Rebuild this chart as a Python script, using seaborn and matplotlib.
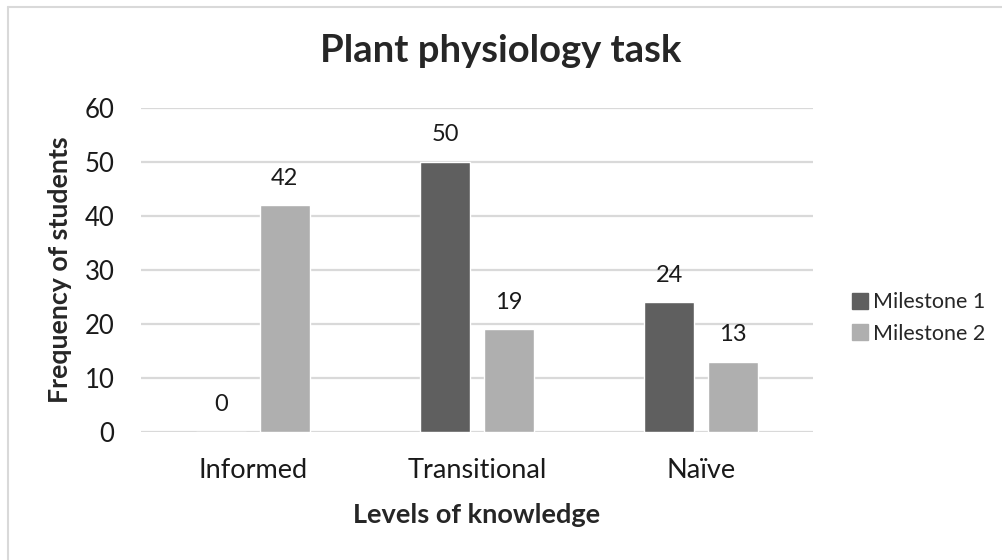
import numpy as np
import pandas as pd
import matplotlib.pyplot as plt
import seaborn as sns
from matplotlib.lines import Line2D

levels = ['Informed', 'Transitional', 'Naïve']
milestones = ['Milestone 1', 'Milestone 2']
milestone1 = [0, 50, 24]
milestone2 = [42, 19, 13]

data = pd.DataFrame({
    'level': levels * 2,
    'milestone': [milestones[0]] * 3 + [milestones[1]] * 3,
    'count': milestone1 + milestone2,
})

sns.set_style('white')
plt.rcParams['font.family'] = ['Lato', 'DejaVu Sans']

fig = plt.figure(figsize=(10.02, 5.6), dpi=100)
ax = fig.add_axes([0.1407, 0.2286, 0.6707, 0.5786])

pal = {'Milestone 1': '#5f5f5f', 'Milestone 2': '#afafaf'}
sns.barplot(data=data, x='level', y='count', hue='milestone', palette=pal,
            width=0.565, gap=0.21, ax=ax, saturation=1, legend=False, zorder=3)

# value labels above bars
for cont in ax.containers:
    ax.bar_label(cont, padding=12, fontsize=17, color='#1a1a1a')

ax.set_ylim(0, 60)
ax.set_yticks(range(0, 61, 10))
ax.set_xlim(-0.5, 2.5)
ax.yaxis.grid(True, color='#d9d9d9', linewidth=1.6, zorder=0)
ax.set_axisbelow(True)
for s in ax.spines.values():
    s.set_visible(False)
ax.tick_params(axis='both', length=0, colors='#1a1a1a')
ax.tick_params(axis='x', labelsize=19.5, pad=19)
ax.tick_params(axis='y', labelsize=18.5, pad=19)

ax.set_xlabel('Levels of knowledge', fontsize=19.5, fontweight='bold')
ax.set_ylabel('Frequency of students', fontsize=19.3, fontweight='bold')
ax.xaxis.set_label_coords(0.5, -0.22)
ax.yaxis.set_label_coords(-0.103, 0.5)
fig.suptitle('Plant physiology task', fontsize=27.5, fontweight='bold', x=0.5, y=0.94)

handles = [Line2D([], [], marker='s', linestyle='', markersize=12,
                  markerfacecolor=pal[m], markeredgecolor=pal[m]) for m in milestones]
fig.legend(handles, milestones, loc='center left', bbox_to_anchor=(0.837, 0.432),
           frameon=False, fontsize=15.5, handletextpad=0.1, labelspacing=0.55,
           handlelength=1.0, borderpad=0)

# chart area border (top and left visible)
fig.add_artist(Line2D([0.008, 0.008], [0, 0.988], transform=fig.transFigure,
                      color='#d9d9d9', linewidth=1.5))
fig.add_artist(Line2D([0.008, 1], [0.988, 0.988], transform=fig.transFigure,
                      color='#d9d9d9', linewidth=1.5))

fig.savefig('out.png', dpi=100, facecolor='white')
